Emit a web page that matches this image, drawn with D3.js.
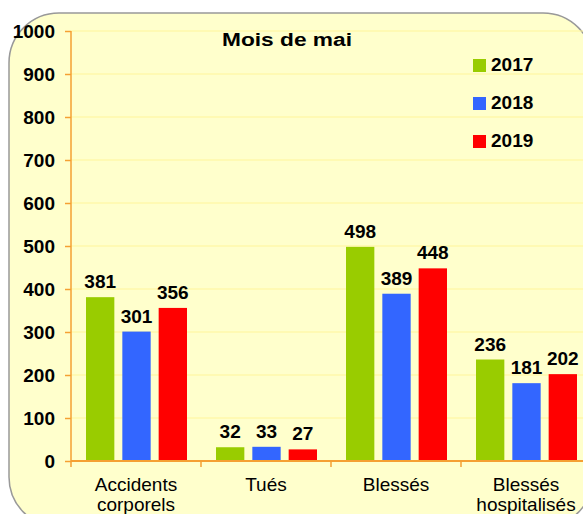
<!DOCTYPE html>
<html><head><meta charset="utf-8">
<script src="https://cdn.jsdelivr.net/npm/d3@7"></script>
<style>body{margin:0;background:#fff}svg{display:block;font-family:"Liberation Sans",Arial,sans-serif}</style>
</head><body>
<svg id="c" width="583" height="514"></svg>
<script>
const categories = [["Accidents","corporels"],["Tués"],["Blessés"],["Blessés","hospitalisés"]];
const seriesNames = ["2017","2018","2019"];
const values2017 = [381, 32, 498, 236];
const values2018 = [301, 33, 389, 181];
const values2019 = [356, 27, 448, 202];
const yTicks = [0,100,200,300,400,500,600,700,800,900,1000];
const colors = ["#99CC00","#3366FF","#FF0000"];
const title = "Mois de mai";

const series = [values2017, values2018, values2019];
const svg = d3.select("#c");

// panel
svg.append("rect").attr("x",9).attr("y",13).attr("width",584).attr("height",514)
  .attr("rx",50).attr("ry",50).attr("fill","#FFFFCC").attr("stroke","#999").attr("stroke-width",1.5);

const x0 = d3.scaleBand().domain(d3.range(categories.length)).range([71,591]).paddingInner(0).paddingOuter(0);
const x1 = d3.scaleBand().domain(d3.range(seriesNames.length)).range([15,116]).paddingInner(0.22).paddingOuter(0);
const y = d3.scaleLinear().domain([0,1000]).range([461,31]);

// gridlines
svg.append("g").selectAll("line").data(yTicks.filter(d=>d>0)).join("line")
  .attr("x1",71).attr("x2",583).attr("y1",d=>y(d)).attr("y2",d=>y(d))
  .attr("stroke","#FFF59A").attr("stroke-width",1);

// y axis
const yAxis = svg.append("g").attr("transform","translate(71,0)")
  .call(d3.axisLeft(y).tickValues(yTicks).tickSize(6).tickPadding(10).tickFormat(d3.format("d")));
yAxis.select(".domain").attr("stroke","#F5A033").attr("stroke-width",1.5).attr("d","M0,31V467");
yAxis.selectAll(".tick line").attr("stroke","#F5A033").attr("stroke-width",1.5);
yAxis.selectAll(".tick text").attr("fill","#000").attr("font-size","19px").attr("font-weight","bold")
  .attr("font-family","'Liberation Sans',Arial,sans-serif");

// bars
const groups = svg.append("g").selectAll("g").data(categories.map((c,i)=>i)).join("g")
  .attr("transform",i=>`translate(${x0(i)},0)`);
groups.selectAll("rect").data(i=>series.map((s,j)=>({j,v:s[i]}))).join("rect")
  .attr("x",d=>x1(d.j)).attr("width",x1.bandwidth())
  .attr("y",d=>y(d.v)).attr("height",d=>y(0)-y(d.v)).attr("fill",d=>colors[d.j]);
groups.selectAll("text.val").data(i=>series.map((s,j)=>({j,v:s[i]}))).join("text")
  .attr("class","val").attr("x",d=>x1(d.j)+x1.bandwidth()/2).attr("y",d=>y(d.v)-9)
  .attr("text-anchor","middle").attr("font-size","19px").attr("font-weight","bold").text(d=>d.v);

// x axis
svg.append("line").attr("x1",71).attr("x2",583).attr("y1",461).attr("y2",461)
  .attr("stroke","#F5A033").attr("stroke-width",2);
svg.append("g").selectAll("line").data(d3.range(1,categories.length)).join("line")
  .attr("x1",i=>x0(i)).attr("x2",i=>x0(i)).attr("y1",461).attr("y2",467)
  .attr("stroke","#F5A033").attr("stroke-width",1.5);
const catText = svg.append("g").selectAll("text").data(categories).join("text")
  .attr("x",(c,i)=>x0(i)+x0.bandwidth()/2).attr("y",491)
  .attr("text-anchor","middle").attr("font-size","19px");
catText.selectAll("tspan").data(c=>c).join("tspan")
  .attr("x",function(){return this.parentNode.getAttribute("x");})
  .attr("dy",(d,k)=>k===0?0:20).text(d=>d);

// title
svg.append("text").attr("x",287).attr("y",46).attr("text-anchor","middle")
  .attr("font-size","18px").attr("font-weight","bold")
  .attr("textLength",130).attr("lengthAdjust","spacingAndGlyphs").text(title);

// legend
const leg = svg.append("g").selectAll("g").data(seriesNames).join("g")
  .attr("transform",(d,i)=>`translate(473,${59+i*38})`);
leg.append("rect").attr("width",13).attr("height",13).attr("fill",(d,i)=>colors[i]);
leg.append("text").attr("x",18).attr("y",12).attr("font-size","19px").attr("font-weight","bold").text(d=>d);
</script>
</body></html>
